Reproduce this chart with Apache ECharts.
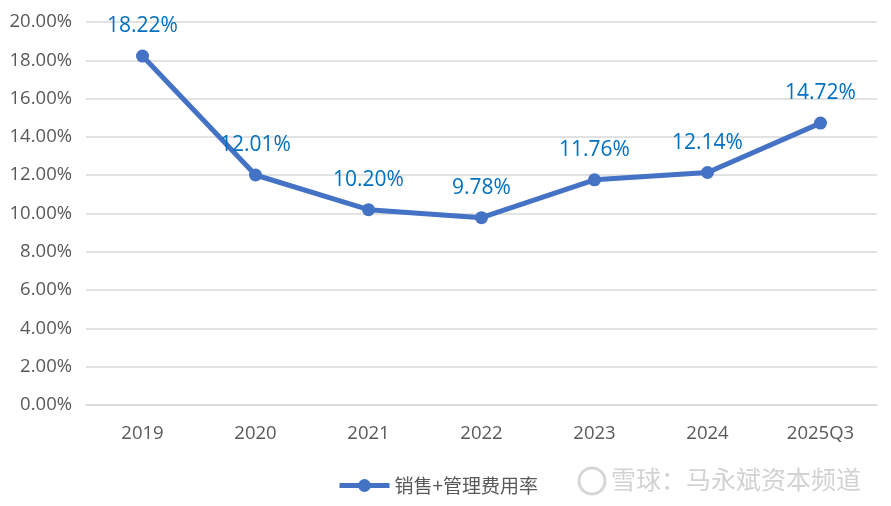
<!DOCTYPE html>
<html><head><meta charset="utf-8">
<script src="https://cdn.jsdelivr.net/npm/echarts@6/dist/echarts.min.js"></script>
<style>html,body{margin:0;padding:0;background:#fff}#c{width:891px;height:506px}</style>
</head><body><div id="c"></div>
<script>
const categories = ['2019','2020','2021','2022','2023','2024','2025Q3'];
const seriesName = '销售+管理费用率';
const values = [18.22, 12.01, 10.20, 9.78, 11.76, 12.14, 14.72];
const yTicks = {min: 0, max: 20, interval: 2};
const watermark = '雪球：马永斌资本频道';

const chart = echarts.init(document.getElementById('c'));
chart.setOption({
  animation: false,
  backgroundColor: '#fff',
  textStyle: {fontFamily: '"Open Sans", "Noto Sans CJK SC", sans-serif'},
  grid: {left: 86, right: 14, top: 22, bottom: 101},
  legend: {
    data: [seriesName], left: 332, top: 471,
    itemWidth: 50, itemHeight: 16, itemGap: 4,
    lineStyle: {width: 5, color: '#4472C4'},
    itemStyle: {color: '#4472C4'},
    textStyle: {fontSize: 19, color: '#595959', fontFamily: '"Noto Sans CJK SC", sans-serif'}
  },
  xAxis: {
    type: 'category', data: categories, boundaryGap: true,
    axisLine: {lineStyle: {color: '#d9d9d9', width: 1.5}},
    axisTick: {show: false},
    axisLabel: {color: '#595959', fontSize: 18.5, margin: 19}
  },
  yAxis: {
    type: 'value', min: yTicks.min, max: yTicks.max, interval: yTicks.interval,
    axisLine: {show: false}, axisTick: {show: false},
    splitLine: {lineStyle: {color: '#d9d9d9', width: 1.5}},
    axisLabel: {color: '#595959', fontSize: 18.5, margin: 14,
      formatter: v => v.toFixed(2) + '%'}
  },
  series: [{
    name: seriesName, type: 'line', data: values,
    symbol: 'circle', symbolSize: 13,
    lineStyle: {color: '#4472C4', width: 5},
    itemStyle: {color: '#4472C4'},
    label: {show: true, position: 'top', distance: 13, color: '#0070C0', fontSize: 21,
      formatter: p => p.value.toFixed(2) + '%'}
  }],
  graphic: [
    {type: 'circle', shape: {cx: 592, cy: 481, r: 13}, style: {fill: 'none', stroke: '#d6d6d6', lineWidth: 3}},
    {type: 'text', left: 611, top: 467, style: {text: watermark, fill: '#d2d2d2', font: '25px "Noto Sans CJK SC", sans-serif'}}
  ]
});
</script></body></html>
